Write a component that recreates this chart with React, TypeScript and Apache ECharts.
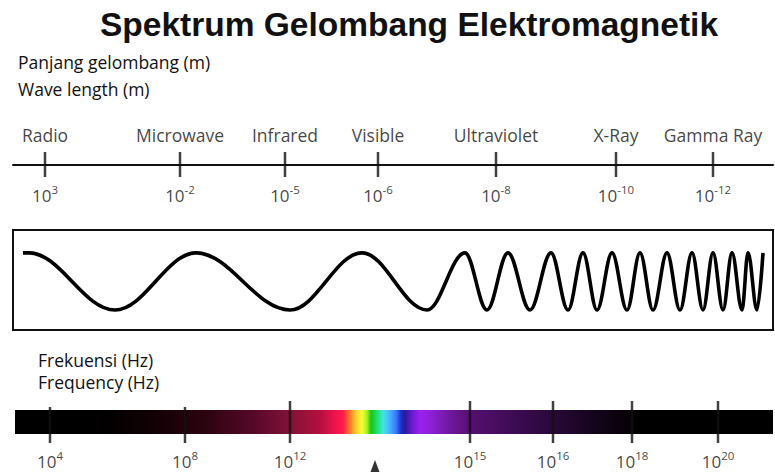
import React, { useEffect, useRef } from 'react';
import * as echarts from 'echarts';

// ---- texts ----
const titleText = 'Spektrum Gelombang Elektromagnetik';
const wavelengthTitle = ['Panjang gelombang (m)', 'Wave length (m)'];
const frequencyTitle = ['Frekuensi (Hz)', 'Frequency (Hz)'];

// ---- wavelength scale (positions along the strip, 0..760) ----
const bands = ['Radio', 'Microwave', 'Infrared', 'Visible', 'Ultraviolet', 'X-Ray', 'Gamma Ray'];
const wavelengthExp = ['3', '-2', '-5', '-6', '-8', '-10', '-12'];
const bandPos = [32, 167, 272, 365, 483, 603, 700];

// ---- frequency scale (positions along the spectrum bar, 0..758) ----
const freqExp = ['4', '8', '12', '15', '16', '18', '20'];
const freqPos = [35, 170, 275, 455, 538, 617, 703];
const visiblePos = 360;

// ---- wave: crest / trough positions (0..760) ----
const waveX = [10, 16, 102, 183, 277, 349, 414, 452, 474, 495, 517, 538, 555, 570, 584, 599, 614, 627, 640, 654, 667, 679, 690, 700, 710, 719, 729, 735, 744, 750];
const waveLevel = [1, 1, -1, 1, -1, 1, -1, 1, -1, 1, -1, 1, -1, 1, -1, 1, -1, 1, -1, 1, -1, 1, -1, 1, -1, 1, -1, 1, -1, 1];

// ---- spectrum colours (positions along the bar, 0..758) ----
const spectrumStopPos = [0, 85, 140, 190, 240, 275, 305, 320, 328, 335, 341, 347, 352, 356, 362, 368, 374, 381, 386, 390, 397, 405, 415, 435, 455, 505, 545, 585, 625, 758];
const spectrumStopColor = ['#000000', '#000000', '#120104', '#2c040f', '#58082a', '#821238', '#b3103e', '#f0124e', '#ff1a4a', '#ff7a22', '#ffd030', '#f4ff30', '#a8f020', '#18c418', '#20e070', '#40e8e0', '#48b8ff', '#3a78ff', '#1a30d0', '#2a1a9a', '#6a1ad0', '#9a20f0', '#9020d8', '#70189c', '#561070', '#3a0a50', '#250834', '#120418', '#000000', '#000000'];

const FONT = '"Open Sans", "Noto Sans", sans-serif';
const SPECTRUM_LEN = 758;

const expRich = {
  base: { fontSize: 17, fontFamily: FONT, color: '#111', lineHeight: 20, verticalAlign: 'bottom' },
  sup: { fontSize: 11.5, fontFamily: FONT, color: '#111', lineHeight: 8, verticalAlign: 'top' },
};

function buildOption() {
  const stops = spectrumStopPos.map((p, i) => ({ offset: p / SPECTRUM_LEN, color: spectrumStopColor[i] }));
  const textEl = (x: number, y: number, text: string, font: string, align = 'left') => ({
    type: 'text',
    x,
    y,
    silent: true,
    style: {
      text,
      font,
      fill: '#111',
      align,
      verticalAlign: 'middle',
      textAlign: align,
      textVerticalAlign: 'middle',
    },
  });
  const small = `17.5px ${FONT}`;
  const expLabel = (distance: number) => ({
    show: true,
    position: 'bottom',
    distance,
    fontSize: 17,
    fontFamily: FONT,
    color: '#111',
    formatter: (d: any) => `{base|10}{sup|${d.name}}`,
    rich: expRich,
  });
  return {
    animation: false,
    backgroundColor: '#ffffff',
    graphic: [
      textEl(409, 24, titleText, `bold 33.5px "Liberation Sans", Arial, sans-serif`, 'center'),
      textEl(18, 62, wavelengthTitle[0], small),
      textEl(18, 89, wavelengthTitle[1], small),
      textEl(38, 360, frequencyTitle[0], small),
      textEl(38, 382, frequencyTitle[1], small),
    ],
    grid: [
      { left: 13, top: 152, width: 760, height: 25 },
      { left: 13, top: 230, width: 760, height: 100, show: true, borderColor: '#111', borderWidth: 2, backgroundColor: 'transparent' },
      { left: 15, top: 410, width: SPECTRUM_LEN, height: 24 },
    ],
    xAxis: [
      {
        gridIndex: 0, type: 'value', min: 0, max: 760,
        axisLine: { show: true, onZero: true, lineStyle: { color: '#111', width: 2 } },
        axisTick: { show: false }, axisLabel: { show: false }, splitLine: { show: false },
      },
      { gridIndex: 1, type: 'value', min: 0, max: 760, show: false },
      { gridIndex: 2, type: 'value', min: 0, max: SPECTRUM_LEN, show: false },
    ],
    yAxis: [
      { gridIndex: 0, type: 'value', min: -1, max: 1, show: false },
      { gridIndex: 1, type: 'value', min: -1.7, max: 1.8, show: false },
      { gridIndex: 2, type: 'category', data: ['spectrum'], show: false },
    ],
    series: [
      {
        type: 'scatter', xAxisIndex: 0, yAxisIndex: 0, silent: true, clip: false,
        symbol: 'rect', symbolSize: [2.5, 25], itemStyle: { color: '#111' },
        data: bandPos.map((p, i) => ({ value: [p, 0], name: bands[i] })),
        label: { show: true, position: 'top', distance: 8, formatter: '{b}', fontSize: 17.5, fontFamily: FONT, color: '#111' },
      },
      {
        type: 'scatter', xAxisIndex: 0, yAxisIndex: 0, silent: true, clip: false,
        symbol: 'rect', symbolSize: [2.5, 25], itemStyle: { color: 'rgba(0,0,0,0)' },
        data: bandPos.map((p, i) => ({ value: [p, 0], name: wavelengthExp[i] })),
        label: expLabel(6.5),
      },
      {
        type: 'line', xAxisIndex: 1, yAxisIndex: 1, silent: true,
        smooth: 0.364, smoothMonotone: 'x', showSymbol: false, symbol: 'none',
        lineStyle: { color: '#000', width: 3.6 },
        data: waveX.map((x, i) => [x, waveLevel[i]]),
      },
      {
        type: 'bar', xAxisIndex: 2, yAxisIndex: 2, silent: true, barWidth: 24,
        data: [SPECTRUM_LEN],
        itemStyle: { color: new echarts.graphic.LinearGradient(0, 0, 1, 0, stops) },
      },
      {
        type: 'scatter', xAxisIndex: 2, yAxisIndex: 2, silent: true, clip: false,
        itemStyle: { color: '#111' },
        data: freqPos.map((p, i) => ({
          value: [p, 0],
          name: freqExp[i],
          symbol: 'rect',
          symbolSize: i < 2 ? [2.5, 36] : [2.5, 42],
          symbolOffset: i < 2 ? [0, 3] : [0, 0],
        })),
        label: expLabel(6.5),
      },
      {
        type: 'scatter', xAxisIndex: 2, yAxisIndex: 2, silent: true, clip: false,
        symbol: 'triangle', symbolSize: [12, 16], symbolOffset: [0, 46],
        itemStyle: { color: '#000' },
        data: [[visiblePos, 0]],
      },
    ],
  };
}

export default function App() {
  const ref = useRef<HTMLDivElement>(null);
  useEffect(() => {
    if (!ref.current) return;
    const chart = echarts.init(ref.current, null, { renderer: 'svg' });
    chart.setOption(buildOption() as any);
    return () => chart.dispose();
  }, []);
  return (
    <div
      ref={ref}
      style={{ position: 'fixed', left: 0, top: 0, width: 775, height: 472, background: '#fff' }}
    />
  );
}
